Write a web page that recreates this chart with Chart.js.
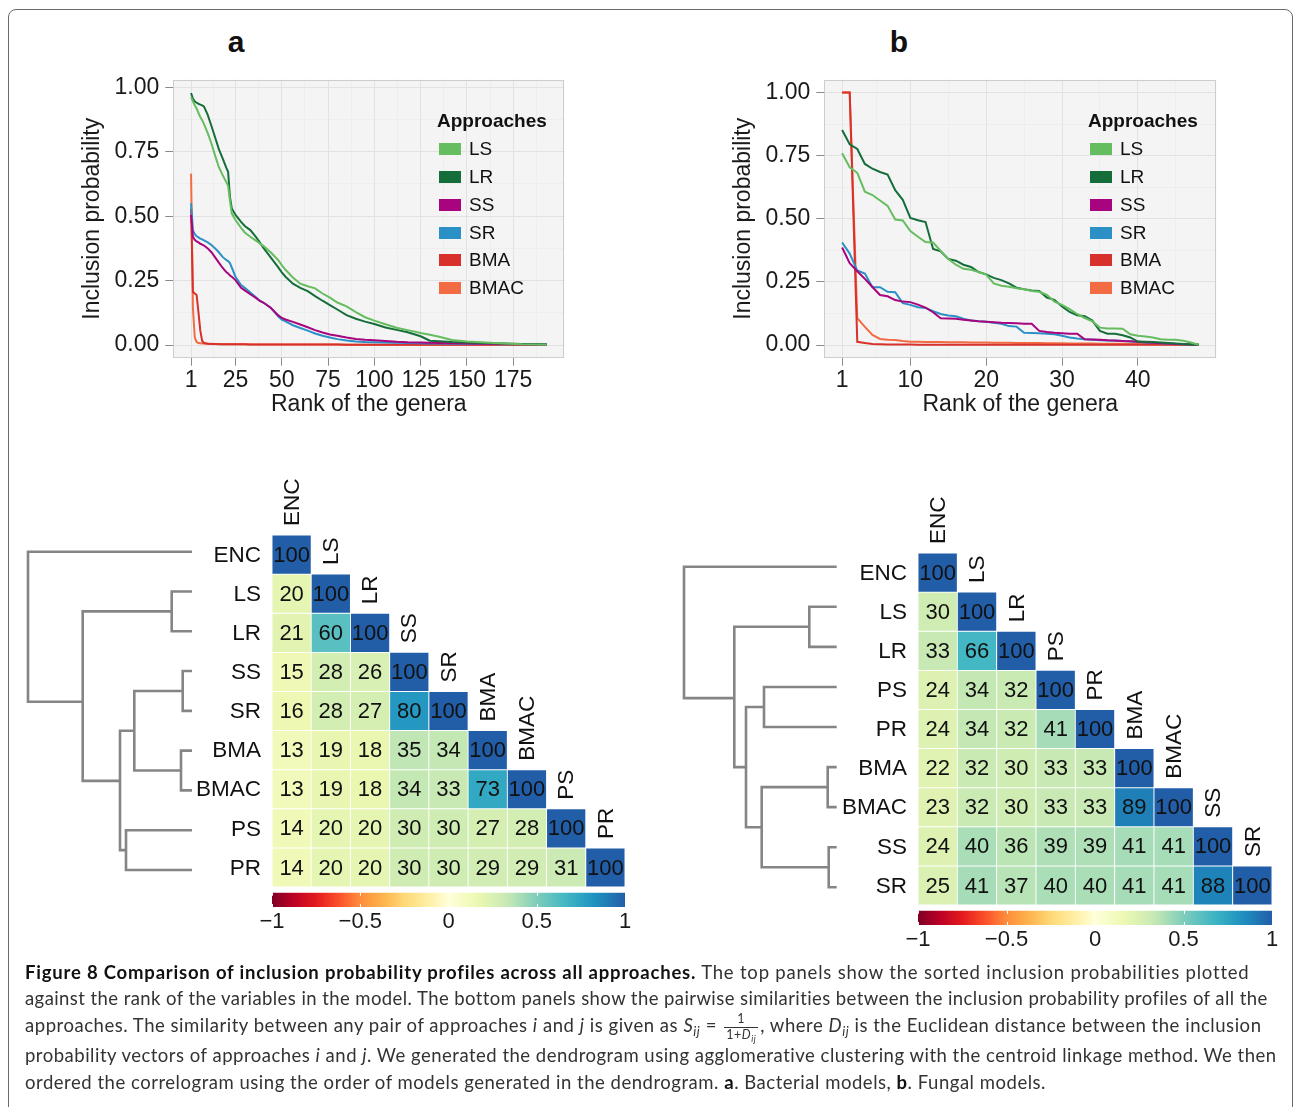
<!DOCTYPE html>
<html>
<head>
<meta charset="utf-8">
<script src="https://cdn.jsdelivr.net/npm/chart.js@4.4.1/dist/chart.umd.min.js"></script>
<style>
  html, body { margin: 0; padding: 0; background: #fff; width: 1294px; height: 1107px; overflow: hidden;
    font-family: 'Liberation Sans', Arial, Helvetica, sans-serif; }
  #frame { position: absolute; left: 8px; top: 9px; width: 1285px; height: 1200px; box-sizing: border-box;
    border: 1px solid #6a6a6a; border-radius: 8px; }
  canvas { position: absolute; }
  .letter { position: absolute; width: 40px; text-align: center; font-weight: bold; font-size: 30px; line-height: 30px; color: #111; }
  .lgt { position: absolute; font-weight: bold; font-size: 19px; line-height: 19px; color: #111; white-space: nowrap; }
  .lgi { position: absolute; height: 27.8px; display: flex; align-items: center; font-size: 19px; color: #111; white-space: nowrap; }
  .key { display: inline-block; width: 22px; height: 12px; margin-right: 8px; }
  .cl { position: absolute; left: 25px; white-space: nowrap; font-family: Lato, 'Open Sans', sans-serif;
    font-size: 18.5px; line-height: 36px; color: #333; }
  .cl b { color: #111; }
  .cl sub { font-size: 0.7em; line-height: 0; vertical-align: -0.3em; }
  .frac { display: inline-flex; flex-direction: column; align-items: center; vertical-align: middle;
    font-size: 12.5px; line-height: 12.5px; margin: 0 2px; }
  .frac .num { border-bottom: 1px solid #333; width: 100%; text-align: center; padding-bottom: 1px; }
  .frac .den { padding: 1px 2px 0; }
</style>
</head>
<body>
<div id="frame"></div>

<div class="letter" style="left:216px;top:27px;">a</div>
<div class="letter" style="left:879px;top:27px;">b</div>

<canvas id="lineA" width="600" height="380" style="left:0;top:60px;"></canvas>
<canvas id="lineB" width="600" height="380" style="left:650px;top:60px;"></canvas>
<canvas id="heatA" width="660" height="480" style="left:0;top:460px;"></canvas>
<canvas id="heatB" width="634" height="490" style="left:660px;top:470px;"></canvas>

<div class="cl" style="top:954px;" data-w="1224"><b>Figure 8 Comparison of inclusion probability profiles across all approaches.</b> The top panels show the sorted inclusion probabilities plotted</div>
<div class="cl" style="top:980px;" data-w="1242">against the rank of the variables in the model. The bottom panels show the pairwise similarities between the inclusion probability profiles of all the</div>
<div class="cl" style="top:1007px;" data-w="1237">approaches. The similarity between any pair of approaches <i>i</i> and <i>j</i> is given as <i>S<sub>ij</sub></i> = <span class="frac"><span class="num">1</span><span class="den">1+<i>D<sub>ij</sub></i></span></span>, where <i>D<sub>ij</sub></i> is the Euclidean distance between the inclusion</div>
<div class="cl" style="top:1037px;" data-w="1252">probability vectors of approaches <i>i</i> and <i>j</i>. We generated the dendrogram using agglomerative clustering with the centroid linkage method. We then</div>
<div class="cl" style="top:1064px;" data-w="1021">ordered the correlogram using the order of models generated in the dendrogram. <b>a</b>. Bacterial models, <b>b</b>. Fungal models.</div>

<script>
// ---------- top panels: sorted inclusion probabilities ----------
const approaches = ['LS', 'LR', 'SS', 'SR', 'BMA', 'BMAC'];

// a: bacterial models (193 genera, read at these ranks)
const rankA = [1,2,3,4,5,6,7,8,10,12,14,16,18,20,21,22,23,25,28,30,33,36,38,40,44,48,50,52,56,60,64,68,72,76,80,85,90,95,100,106,112,118,125,130,135,142,150,160,170,180,193];
const lsA = [0.962,0.945,0.930,0.918,0.900,0.885,0.872,0.857,0.822,0.782,0.735,0.690,0.660,0.632,0.618,0.560,0.510,0.485,0.455,0.437,0.420,0.405,0.395,0.385,0.360,0.330,0.310,0.292,0.262,0.238,0.228,0.220,0.200,0.184,0.165,0.150,0.128,0.108,0.095,0.081,0.067,0.058,0.047,0.040,0.032,0.020,0.014,0.010,0.006,0.003,0.002];
const lrA = [0.978,0.955,0.945,0.940,0.936,0.933,0.930,0.925,0.893,0.850,0.805,0.760,0.725,0.688,0.672,0.575,0.530,0.505,0.478,0.462,0.446,0.420,0.400,0.378,0.340,0.302,0.282,0.265,0.238,0.222,0.209,0.190,0.172,0.155,0.138,0.116,0.102,0.091,0.082,0.068,0.059,0.050,0.034,0.017,0.015,0.012,0.010,0.008,0.006,0.004,0.003];
const ssA = [0.505,0.420,0.408,0.402,0.398,0.393,0.390,0.386,0.375,0.360,0.340,0.320,0.300,0.283,0.278,0.270,0.265,0.252,0.222,0.212,0.197,0.183,0.172,0.165,0.145,0.116,0.105,0.099,0.090,0.080,0.069,0.058,0.049,0.041,0.036,0.029,0.024,0.021,0.019,0.016,0.013,0.011,0.010,0.009,0.008,0.007,0.006,0.005,0.004,0.003,0.003];
const srA = [0.550,0.445,0.430,0.422,0.418,0.413,0.410,0.406,0.398,0.388,0.375,0.360,0.342,0.330,0.326,0.318,0.300,0.265,0.233,0.222,0.204,0.186,0.172,0.165,0.145,0.112,0.099,0.092,0.077,0.066,0.056,0.045,0.036,0.029,0.023,0.018,0.014,0.012,0.011,0.010,0.009,0.008,0.007,0.006,0.006,0.005,0.004,0.004,0.003,0.003,0.002];
const bmaA = [0.527,0.207,0.200,0.194,0.127,0.055,0.016,0.008,0.005,0.004,0.004,0.003,0.003,0.003,0.003,0.003,0.003,0.003,0.003,0.003,0.002,0.002,0.002,0.002,0.002,0.002,0.002,0.002,0.002,0.002,0.002,0.002,0.002,0.002,0.002,0.001,0.001,0.001,0.001,0.001,0.001,0.001,0.001,0.001,0.001,0.001,0.001,0.001,0.001,0.001,0.001];
const bmacA = [0.665,0.143,0.029,0.012,0.008,0.007,0.006,0.006,0.005,0.005,0.004,0.004,0.003,0.003,0.003,0.003,0.003,0.003,0.003,0.003,0.002,0.002,0.002,0.002,0.002,0.002,0.002,0.002,0.002,0.002,0.002,0.002,0.002,0.002,0.002,0.001,0.001,0.001,0.001,0.001,0.001,0.001,0.001,0.001,0.001,0.001,0.001,0.001,0.001,0.001,0.001];

// b: fungal models (48 genera)
const rankB = [1,2,3,4,5,6,7,8,9,10,11,12,13,14,15,16,17,18,19,20,21,22,23,24,25,26,27,28,29,30,31,32,33,34,35,36,37,38,39,40,41,42,43,44,45,46,47,48];
const lsB = [0.759,0.704,0.682,0.607,0.594,0.572,0.551,0.497,0.493,0.451,0.429,0.408,0.406,0.373,0.341,0.318,0.302,0.298,0.289,0.279,0.244,0.235,0.231,0.225,0.221,0.214,0.211,0.199,0.172,0.159,0.142,0.123,0.107,0.094,0.069,0.066,0.066,0.065,0.043,0.037,0.034,0.030,0.023,0.021,0.021,0.017,0.010,0.001];
const lrB = [0.851,0.795,0.776,0.717,0.698,0.685,0.675,0.613,0.575,0.503,0.494,0.487,0.380,0.371,0.341,0.334,0.318,0.309,0.289,0.280,0.266,0.257,0.244,0.227,0.221,0.216,0.214,0.188,0.179,0.153,0.131,0.118,0.114,0.097,0.056,0.045,0.045,0.039,0.030,0.014,0.013,0.012,0.010,0.008,0.006,0.004,0.002,0.001];
const ssB = [0.386,0.324,0.292,0.262,0.230,0.198,0.193,0.178,0.172,0.170,0.160,0.148,0.130,0.106,0.105,0.104,0.100,0.097,0.094,0.092,0.090,0.088,0.087,0.086,0.084,0.084,0.056,0.052,0.049,0.047,0.045,0.045,0.023,0.022,0.021,0.019,0.018,0.016,0.015,0.013,0.011,0.009,0.008,0.006,0.004,0.003,0.002,0.001];
const srB = [0.406,0.362,0.295,0.283,0.229,0.229,0.211,0.209,0.166,0.159,0.150,0.147,0.134,0.123,0.117,0.114,0.104,0.097,0.094,0.092,0.088,0.084,0.075,0.073,0.049,0.048,0.047,0.045,0.043,0.037,0.030,0.026,0.023,0.021,0.019,0.018,0.017,0.016,0.014,0.012,0.010,0.009,0.007,0.006,0.004,0.003,0.002,0.001];
const bmaB = [1.000,1.000,0.013,0.008,0.004,0.003,0.002,0.002,0.002,0.002,0.001,0.001,0.001,0.001,0.001,0.001,0.001,0.001,0.001,0.001,0.001,0.001,0.001,0.001,0.001,0.001,0.001,0.001,0.001,0.001,0.001,0.001,0.001,0.001,0.001,0.001,0.001,0.001,0.001,0.001,0.001,0.001,0.001,0.001,0.001,0.001,0.001,0.001];
const bmacB = [1.000,1.000,0.107,0.072,0.040,0.024,0.021,0.020,0.016,0.013,0.013,0.012,0.012,0.012,0.011,0.011,0.011,0.010,0.010,0.010,0.009,0.009,0.009,0.008,0.008,0.008,0.008,0.007,0.007,0.007,0.006,0.006,0.006,0.006,0.005,0.005,0.005,0.005,0.004,0.004,0.004,0.003,0.003,0.003,0.002,0.002,0.002,0.002];

// axis breaks (major ones get labels)
const xMajorA = [1, 25, 50, 75, 100, 125, 150, 175];
const xMinorA = [13, 37.5, 62.5, 87.5, 112.5, 137.5, 162.5, 187.5];
const xMajorB = [1, 10, 20, 30, 40];
const xMinorB = [5.5, 15, 25, 35, 45];
const yMajor = [0, 0.25, 0.5, 0.75, 1];
const yMinor = [0.125, 0.375, 0.625, 0.875];

// ---------- bottom panels: similarity correlograms ----------
const namesA = ['ENC', 'LS', 'LR', 'SS', 'SR', 'BMA', 'BMAC', 'PS', 'PR'];
const simA = [
  [100],
  [20, 100],
  [21, 60, 100],
  [15, 28, 26, 100],
  [16, 28, 27, 80, 100],
  [13, 19, 18, 35, 34, 100],
  [13, 19, 18, 34, 33, 73, 100],
  [14, 20, 20, 30, 30, 27, 28, 100],
  [14, 20, 20, 30, 30, 29, 29, 31, 100]
];
// hclust-style merges: negative = leaf (row number), positive = earlier merge
const mergeA = [[-2, -3], [-4, -5], [-6, -7], [-8, -9], [2, 3], [5, 4], [1, 6], [-1, 7]];
const heightA = [20.3, 9.3, 11, 66, 57.7, 72, 109.3, 164];
const nodeYA = [1.5, 3.5, 5.5, 7.5, 4.5, 5.76, 3.77, 1.9];

const namesB = ['ENC', 'LS', 'LR', 'PS', 'PR', 'BMA', 'BMAC', 'SS', 'SR'];
const simB = [
  [100],
  [30, 100],
  [33, 66, 100],
  [24, 34, 32, 100],
  [24, 34, 32, 41, 100],
  [22, 32, 30, 33, 33, 100],
  [23, 32, 30, 33, 33, 89, 100],
  [24, 40, 36, 39, 39, 41, 41, 100],
  [25, 41, 37, 40, 40, 41, 41, 88, 100]
];
const mergeB = [[-2, -3], [-4, -5], [-6, -7], [-8, -9], [3, 4], [2, 5], [1, 6], [-1, 7]];
const heightB = [27.4, 72.7, 9, 8, 75, 90.7, 102.4, 152.7];
const nodeYB = [1.5, 3.5, 5.5, 7.5, 6.5, 5.0, 3.28, 1.6];

const colorbarTicks = [-1, -0.5, 0, 0.5, 1];

// ---------- styling ----------
const FONT = "'Liberation Sans', Arial, Helvetica, sans-serif";
const INK = '#1a1a1a';
const approachColors = ['#66BD5F', '#156E3A', '#A8047F', '#2B90C6', '#D8302A', '#F36B43'];
const PANEL_BG = '#F4F4F4', GRID_MAJOR = '#E2E2E2', GRID_MINOR = '#EBEBEB', TICK = '#8a8a8a';
const DENDRO = '#858585';
const negStops = ['#FFFFD9', '#FFEDA0', '#FED976', '#FEB24C', '#FD8D3C', '#FC4E2A', '#E31A1C', '#BD0026', '#800026'];
const posStops = ['#FFFFD9', '#EDF8B1', '#C7E9B4', '#7FCDBB', '#41B6C4', '#1D91C0', '#225EA8'];

Chart.defaults.font.family = FONT;
Chart.defaults.color = INK;

function hex(c) { return [1, 3, 5].map(i => parseInt(c.substr(i, 2), 16)); }
function heatColor(v) {
  const stops = v < 0 ? negStops : posStops;
  const t = Math.min(1, Math.abs(v)) * (stops.length - 1);
  const i = Math.min(stops.length - 2, Math.floor(t));
  const f = t - i;
  const a = hex(stops[i]), b = hex(stops[i + 1]);
  return 'rgb(' + a.map((x, k) => Math.round(x + (b[k] - x) * f)).join(',') + ')';
}

const panelPlugin = {
  id: 'panel',
  beforeDraw(chart) {
    const {ctx, chartArea: a} = chart;
    ctx.save();
    ctx.fillStyle = PANEL_BG;
    ctx.fillRect(a.left, a.top, a.right - a.left, a.bottom - a.top);
    ctx.restore();
  },
  afterDatasetsDraw(chart) {
    const {ctx, chartArea: a} = chart;
    ctx.save();
    ctx.strokeStyle = '#CDCDCD';
    ctx.lineWidth = 1;
    ctx.strokeRect(Math.round(a.left) + 0.5, Math.round(a.top) + 0.5, Math.round(a.right - a.left) - 1, Math.round(a.bottom - a.top) - 1);
    ctx.restore();
  }
};

function lineChart(id, ranks, series, xMajor, xMinor, xRange, yRange, pad) {
  const xTicks = xMajor.concat(xMinor).sort((a, b) => a - b);
  const yTicks = yMajor.concat(yMinor).sort((a, b) => a - b);
  const isMaj = (list, c) => c.tick && list.includes(c.tick.value);
  return new Chart(document.getElementById(id), {
    type: 'line',
    data: {
      datasets: series.map((vals, k) => ({
        label: approaches[k],
        data: ranks.map((r, i) => ({x: r, y: vals[i]})),
        borderColor: approachColors[k],
        borderWidth: 2,
        pointRadius: 0,
        tension: 0,
        fill: false
      }))
    },
    options: {
      responsive: false, animation: false, events: [], devicePixelRatio: 1,
      layout: {padding: pad},
      plugins: {legend: {display: false}, tooltip: {enabled: false}},
      scales: {
        x: {
          type: 'linear', min: xRange[0], max: xRange[1],
          afterBuildTicks: s => { s.ticks = xTicks.map(v => ({value: v})); },
          afterFit: s => { s.height = 61.1; },
          border: {display: false},
          grid: {
            color: c => isMaj(xMajor, c) ? GRID_MAJOR : GRID_MINOR,
            lineWidth: c => isMaj(xMajor, c) ? 1 : 0.7,
            tickLength: 8, tickWidth: 1,
            tickColor: c => isMaj(xMajor, c) ? TICK : 'rgba(0,0,0,0)'
          },
          ticks: {autoSkip: false, maxRotation: 0, padding: 1, color: INK, font: {size: 23},
            callback: v => xMajor.includes(v) ? String(v) : ''},
          title: {display: true, text: 'Rank of the genera', color: INK, font: {size: 23}, padding: 0}
        },
        y: {
          type: 'linear', min: yRange[0], max: yRange[1],
          afterBuildTicks: s => { s.ticks = yTicks.map(v => ({value: v})); },
          afterFit: s => { s.width = 94.1; },
          border: {display: false},
          grid: {
            color: c => isMaj(yMajor, c) ? GRID_MAJOR : GRID_MINOR,
            lineWidth: c => isMaj(yMajor, c) ? 1 : 0.7,
            tickLength: 8, tickWidth: 1,
            tickColor: c => isMaj(yMajor, c) ? TICK : 'rgba(0,0,0,0)'
          },
          ticks: {autoSkip: false, padding: 6, color: INK, font: {size: 23},
            callback: v => yMajor.includes(v) ? v.toFixed(2) : ''},
          title: {display: true, text: 'Inclusion probability', color: INK, font: {size: 23}, padding: 0}
        }
      }
    },
    plugins: [panelPlugin]
  });
}

lineChart('lineA', rankA, [lsA, lrA, ssA, srA, bmaA, bmacA], xMajorA, xMinorA, [-8.6, 202.6], [-0.049, 1.029],
  {left: 79.2, right: 35.7, top: 16.7, bottom: 21.2});
lineChart('lineB', rankB, [lsB, lrB, ssB, srB, bmaB, bmacB], xMajorB, xMinorB, [-1.35, 50.35], [-0.05, 1.05],
  {left: 80.2, right: 33.7, top: 16.7, bottom: 21.2});

function buildLegend(titleLeft, keyLeft) {
  const t = document.createElement('div');
  t.className = 'lgt';
  t.textContent = 'Approaches';
  t.style.left = titleLeft + 'px';
  t.style.top = '111px';
  document.body.appendChild(t);
  approaches.forEach((name, k) => {
    const row = document.createElement('div');
    row.className = 'lgi';
    row.style.left = keyLeft + 'px';
    row.style.top = (149.2 + 27.8 * k - 13.9) + 'px';
    row.innerHTML = '<span class="key" style="background:' + approachColors[k] + '"></span>' + name;
    document.body.appendChild(row);
  });
}
buildLegend(437, 439);
buildLegend(1088, 1090);

// ---------- correlogram + dendrogram ----------
function heatPlugin(names, sim) {
  return {
    id: 'heatText',
    afterDatasetsDraw(chart) {
      const {ctx} = chart;
      const xs = chart.scales.x, ys = chart.scales.y, x2 = chart.scales.x2;
      ctx.save();
      // colour bar
      const x0 = x2.getPixelForValue(-1), x1 = x2.getPixelForValue(1);
      const y0 = ys.getPixelForValue(9.146), y1 = ys.getPixelForValue(9.51);
      const grad = ctx.createLinearGradient(x0, 0, x1, 0);
      for (let k = 0; k <= 40; k++) grad.addColorStop(k / 40, heatColor(-1 + k / 20));
      ctx.fillStyle = grad;
      ctx.fillRect(x0, y0, x1 - x0, y1 - y0);
      ctx.strokeStyle = '#ffffff';
      ctx.lineWidth = 1;
      x2.ticks.forEach(t => {
        const px = Math.round(x2.getPixelForValue(t.value)) + 0.5;
        ctx.beginPath();
        ctx.moveTo(px, y0); ctx.lineTo(px, y0 + 3);
        ctx.moveTo(px, y1 - 3); ctx.lineTo(px, y1);
        ctx.stroke();
      });
      // cell values
      ctx.fillStyle = '#111';
      ctx.font = '22px ' + FONT;
      ctx.textAlign = 'center';
      ctx.textBaseline = 'middle';
      sim.forEach((row, r) => {
        const meta = chart.getDatasetMeta(r);
        meta.data.forEach((bar, c) => ctx.fillText(String(row[c]), bar.x, (bar.y + bar.base) / 2 + 1));
      });
      // row labels
      ctx.font = '22.5px ' + FONT;
      ctx.textAlign = 'right';
      names.forEach((n, r) => ctx.fillText(n, xs.getPixelForValue(0) - 11, ys.getPixelForValue(r + 0.5) + 1));
      // column labels above the diagonal
      ctx.textAlign = 'left';
      names.forEach((n, c) => {
        ctx.save();
        ctx.translate(xs.getPixelForValue(c + 0.5) + 1, ys.getPixelForValue(c) - 9);
        ctx.rotate(-Math.PI / 2);
        ctx.fillText(n, 0, 0);
        ctx.restore();
      });
      ctx.restore();
    }
  };
}

function heatChart(id, names, sim, merge, height, nodeY, g) {
  const datasets = sim.map((row, r) => ({
    type: 'bar', xAxisID: 'x', yAxisID: 'y', grouped: false,
    barPercentage: 1, categoryPercentage: 1,
    data: row.map((v, c) => ({x: c + 0.5, y: [r, r + 1]})),
    backgroundColor: row.map(v => heatColor(v / 100)),
    borderColor: '#ffffff', borderWidth: 0.8, borderSkipped: false
  }));
  const pos = c => c < 0 ? -c - 1 : nodeY[c - 1];
  const hgt = c => c < 0 ? 0 : height[c - 1];
  merge.forEach((m, k) => {
    const [a, b] = m;
    datasets.push({
      type: 'line', xAxisID: 'xd', yAxisID: 'yd',
      data: [{x: hgt(a), y: pos(a)}, {x: height[k], y: pos(a)}, {x: height[k], y: pos(b)}, {x: hgt(b), y: pos(b)}],
      borderColor: DENDRO, borderWidth: 2.6, pointRadius: 0, tension: 0, fill: false,
      borderCapStyle: 'butt', borderJoinStyle: 'miter'
    });
  });
  const fmt = v => (v < 0 ? '\u2212' + String(-v) : String(v));
  return new Chart(document.getElementById(id), {
    type: 'bar',
    data: {datasets},
    options: {
      responsive: false, animation: false, events: [], devicePixelRatio: 1,
      layout: {padding: g.pad},
      plugins: {legend: {display: false}, tooltip: {enabled: false}},
      scales: {
        x: {type: 'linear', display: false, min: g.xMin, max: 9, offset: false, grid: {offset: false},
          afterBuildTicks: s => { const t = []; for (let v = Math.ceil(g.xMin); v <= 9; v++) t.push({value: v}); s.ticks = t; }},
        y: {type: 'linear', display: false, min: 0, max: 9.51, reverse: true, beginAtZero: false},
        xd: {type: 'linear', display: false, min: g.xdMin, max: g.xdMax, reverse: true, offset: false, grid: {offset: false}},
        yd: {type: 'linear', display: false, min: g.ydMin, max: g.ydMax, reverse: true, beginAtZero: false},
        x2: {type: 'linear', position: 'bottom', min: g.x2Min, max: 1, offset: false,
          afterBuildTicks: s => { s.ticks = colorbarTicks.map(v => ({value: v})); },
          afterFit: s => { s.height = 30; },
          grid: {display: false, drawTicks: false, offset: false}, border: {display: false},
          ticks: {autoSkip: false, maxRotation: 0, padding: 2, color: INK, font: {size: 22}, callback: v => fmt(v)}}
      }
    },
    plugins: [heatPlugin(names, sim)]
  });
}

heatChart('heatA', namesA, simA, mergeA, heightA, nodeYA, {
  pad: {left: 20, right: 35, top: 75, bottom: 3},
  xMin: -6.425, x2Min: -2.4278, xdMin: -433, xdMax: 172, ydMin: -0.4197, ydMax: 8.930
});
heatChart('heatB', namesB, simB, mergeB, heightB, nodeYB, {
  pad: {left: 15, right: 22, top: 83, bottom: 5},
  xMin: -6.178, x2Min: -2.3729, xdMin: -435.3, xdMax: 161.7, ydMin: -0.3419, ydMax: 8.9407
});

// ---------- caption: stretch the wrapped lines to the measured line ends ----------
document.querySelectorAll('.cl[data-w]').forEach(el => {
  const w = el.getBoundingClientRect().width;
  const n = el.textContent.length;
  el.style.letterSpacing = ((+el.dataset.w - w) / n) + 'px';
});
</script>
</body>
</html>
